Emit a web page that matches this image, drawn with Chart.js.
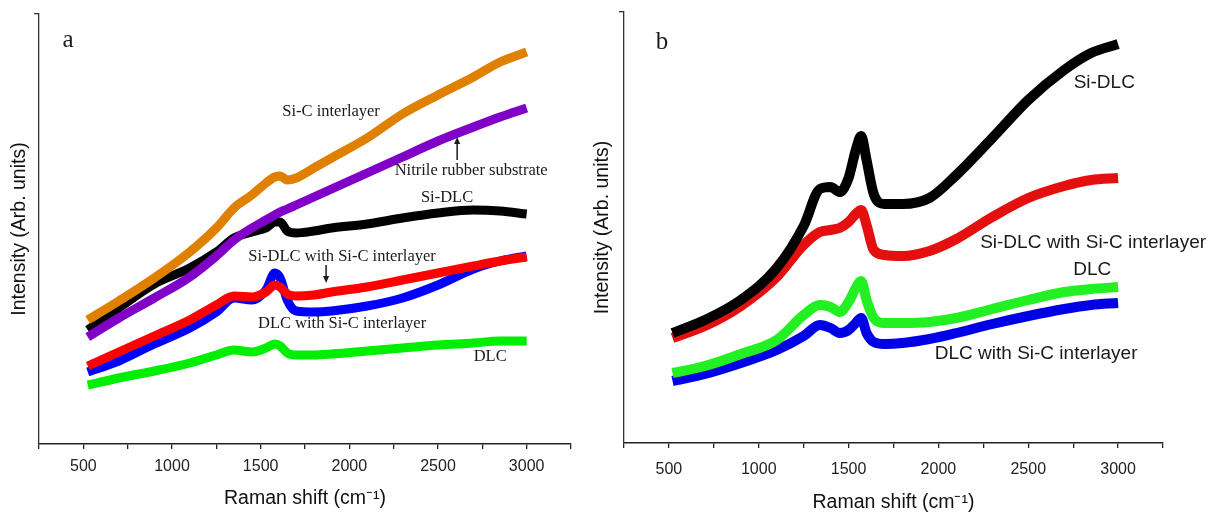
<!DOCTYPE html>
<html>
<head>
<meta charset="utf-8">
<script src="https://cdn.jsdelivr.net/npm/chart.js@4.4.0/dist/chart.umd.min.js"></script>
<style>
html, body { margin: 0; padding: 0; background: #fff; }
#wrap { position: relative; width: 1220px; height: 517px; overflow: hidden; }
#panelA { position: absolute; left: 0; top: 0; }
#panelB { position: absolute; left: 585px; top: 0; }
</style>
</head>
<body>
<div id="wrap">
    <canvas id="panelA" width="600" height="517"></canvas>
    <canvas id="panelB" width="635" height="517"></canvas>
</div>
<script>
// panel a - Raman shift (cm-1) and intensities (arb. units)
var shiftA = [525, 700, 900, 1100, 1250, 1350, 1450, 1530, 1580, 1610, 1650, 1700, 1800, 1900, 2100, 2300, 2500, 2700, 2850, 3000];
var siCInterlayerA = [124, 143, 166, 192, 216, 236, 249, 261, 267, 268, 264, 266, 276, 286, 306, 330, 349, 367, 382, 392];
var nitrileA = [107, 126, 146, 167, 188, 204, 216, 224, 229, 232, 235, 239, 247, 255, 271, 287, 303, 317, 327, 336];
var siDlcA = [114, 136, 160, 176, 192, 206, 212, 216, 222, 222, 213, 211, 213, 216, 220, 226, 231, 234, 233, 230];
var siDlcSiCA = [78, 92, 108, 124, 139, 148, 147, 152, 159, 157, 150, 148, 149, 152, 157, 164, 171, 178, 183, 187];
var dlcSiCA = [72, 83, 100, 116, 132, 146, 144, 154, 171, 166, 144, 133, 132, 133, 138, 146, 159, 175, 183, 188];
var dlcA = [59, 66, 73, 81, 89, 94, 92, 96, 100, 98, 91, 89, 89, 90, 93, 96, 99, 101, 103, 103];

// panel b
var shiftB = [520, 700, 900, 1100, 1250, 1340, 1400, 1450, 1500, 1540, 1570, 1600, 1640, 1700, 1800, 1950, 2100, 2300, 2500, 2700, 2850, 3000];
var siDlcB = [110, 123, 143, 175, 217, 254, 256, 251, 265, 293, 307, 283, 249, 239, 239, 245, 268, 305, 343, 373, 390, 399];
var siDlcSiCB = [105, 117, 137, 166, 198, 211, 213, 215, 221, 229, 233, 218, 193, 188, 187, 192, 204, 226, 245, 257, 263, 265];
var dlcB = [70, 77, 89, 103, 128, 138, 136, 131, 141, 155, 162, 143, 125, 120, 120, 121, 125, 134, 143, 151, 154, 156];
var dlcSiCB = [62, 69, 80, 93, 107, 118, 115, 110, 113, 120, 125, 110, 101, 99, 100, 104, 110, 119, 127, 134, 138, 140];

var xTicks = [250, 500, 750, 1000, 1250, 1500, 1750, 2000, 2250, 2500, 2750, 3000, 3250];

function points(xs, ys) {
    return xs.map(function(x, i) { return { x: x, y: ys[i] }; });
}

function series(label, xs, ys, color, width) {
    return {
        label: label,
        data: points(xs, ys),
        borderColor: color,
        backgroundColor: color,
        borderWidth: width,
        pointRadius: 0,
        cubicInterpolationMode: 'monotone',
        fill: false
    };
}

var annotate = {
    id: 'annotate',
    afterDatasetsDraw: function(chart, args, opts) {
        var ctx = chart.ctx;
        var xs = chart.scales.x;
        var ys = chart.scales.y;
        ctx.save();
        ctx.fillStyle = '#1a1a1a';
        ctx.strokeStyle = '#1a1a1a';
        ctx.textAlign = 'center';
        ctx.textBaseline = 'middle';
        (opts.labels || []).forEach(function(l) {
            ctx.font = l.font || opts.font;
            ctx.fillText(l.text, xs.getPixelForValue(l.x), ys.getPixelForValue(l.y));
        });
        (opts.arrows || []).forEach(function(a) {
            var px = xs.getPixelForValue(a.x);
            var y0 = ys.getPixelForValue(a.from);
            var y1 = ys.getPixelForValue(a.to);
            var dir = y1 > y0 ? 1 : -1;
            ctx.lineWidth = 1.5;
            ctx.beginPath();
            ctx.moveTo(px, y0);
            ctx.lineTo(px, y1 - dir * 5);
            ctx.stroke();
            ctx.beginPath();
            ctx.moveTo(px, y1);
            ctx.lineTo(px - 3, y1 - dir * 7);
            ctx.lineTo(px + 3, y1 - dir * 7);
            ctx.closePath();
            ctx.fill();
        });
        ctx.restore();
    }
};

function makeOptions(cfg) {
    return {
        responsive: false,
        animation: false,
        layout: { padding: { top: cfg.top, right: cfg.right, left: 0, bottom: 0 } },
        plugins: {
            legend: { display: false },
            tooltip: { enabled: false },
            annotate: { font: cfg.labelFont, labels: cfg.labels, arrows: cfg.arrows || [] }
        },
        scales: {
            x: {
                type: 'linear',
                min: 250,
                max: 3250,
                afterBuildTicks: function(scale) {
                    scale.ticks = xTicks.map(function(v) { return { value: v }; });
                },
                afterFit: function(scale) { scale.height = cfg.xHeight; },
                border: { display: true, color: '#222', width: 1.5 },
                grid: { drawOnChartArea: false, drawTicks: true, tickLength: 5, color: '#222', lineWidth: 1.3 },
                ticks: {
                    autoSkip: false,
                    maxRotation: 0,
                    padding: cfg.tickPad,
                    color: '#222',
                    font: { family: 'Arial, "Liberation Sans"', size: 16 },
                    callback: function(v) { return v % 500 === 0 ? String(v) : ''; }
                },
                title: {
                    display: true,
                    text: 'Raman shift (cm⁻¹)',
                    color: '#111',
                    font: { family: 'Arial, "Liberation Sans"', size: 19.5 },
                    padding: { top: 0, bottom: cfg.xTitlePad }
                }
            },
            y: {
                type: 'linear',
                min: 0,
                max: cfg.yMax,
                afterBuildTicks: function(scale) {
                    scale.ticks = [{ value: cfg.yMax }];
                },
                afterFit: function(scale) { scale.width = 39; },
                border: { display: true, color: '#333', width: 1.3 },
                grid: { drawOnChartArea: false, drawTicks: true, tickLength: 5, color: '#333', lineWidth: 1.3 },
                ticks: { callback: function() { return ''; } },
                title: {
                    display: true,
                    text: 'Intensity (Arb. units)',
                    color: '#111',
                    font: { family: 'Arial, "Liberation Sans"', size: 19.5 },
                    padding: { top: cfg.yTitlePad, bottom: 0 }
                }
            }
        }
    };
}

var serif = '16.5px "Liberation Serif", "Times New Roman", serif';
var sans = '19px Arial, "Liberation Sans", sans-serif';
var bigSerif = '25px "Liberation Serif", "Times New Roman", serif';

new Chart(document.getElementById('panelA'), {
    type: 'line',
    data: {
        datasets: [
            series('Si-C interlayer', shiftA, siCInterlayerA, '#E08000', 9),
            series('Nitrile rubber substrate', shiftA, nitrileA, '#8000C8', 9),
            series('Si-DLC', shiftA, siDlcA, '#000000', 9),
            series('Si-DLC with Si-C interlayer', shiftA, siDlcSiCA, '#FF0000', 9),
            series('DLC with Si-C interlayer', shiftA, dlcSiCA, '#0000FF', 9),
            series('DLC', shiftA, dlcA, '#00EE00', 9)
        ]
    },
    options: makeOptions({
        top: 14, right: 29, xHeight: 73, tickPad: 8, xTitlePad: 6.5, yTitlePad: 8.3, yMax: 430,
        labelFont: serif,
        labels: [
            { text: 'a', x: 414, y: 404, font: bigSerif },
            { text: 'Si-C interlayer', x: 1897, y: 332 },
            { text: 'Nitrile rubber substrate', x: 2687, y: 273 },
            { text: 'Si-DLC', x: 2551, y: 246 },
            { text: 'Si-DLC with Si-C interlayer', x: 1959, y: 187 },
            { text: 'DLC with Si-C interlayer', x: 1959, y: 120 },
            { text: 'DLC', x: 2794, y: 87 }
        ],
        arrows: [
            { x: 2608, from: 284, to: 307 },
            { x: 1869, from: 179, to: 161 }
        ]
    }),
    plugins: [annotate]
});

new Chart(document.getElementById('panelB'), {
    type: 'line',
    data: {
        datasets: [
            series('Si-DLC', shiftB, siDlcB, '#000000', 10),
            series('Si-DLC with Si-C interlayer', shiftB, siDlcSiCB, '#E41010', 10),
            series('DLC', shiftB, dlcB, '#22F022', 10),
            series('DLC with Si-C interlayer', shiftB, dlcSiCB, '#0000E6', 10)
        ]
    },
    options: makeOptions({
        top: 12, right: 57, xHeight: 74, tickPad: 12, xTitlePad: 2.5, yTitlePad: 6.3, yMax: 431,
        labelFont: sans,
        labels: [
            { text: 'b', x: 462, y: 401, font: bigSerif },
            { text: 'Si-DLC', x: 2923, y: 360 },
            { text: 'Si-DLC with Si-C interlayer', x: 2861, y: 200 },
            { text: 'DLC', x: 2856, y: 173 },
            { text: 'DLC with Si-C interlayer', x: 2544, y: 89 }
        ]
    }),
    plugins: [annotate]
});
</script>
</body>
</html>
